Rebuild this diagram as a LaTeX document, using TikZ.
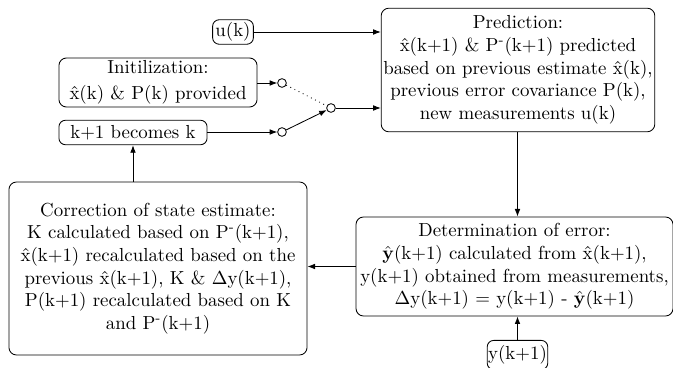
\documentclass[tikz,border=0pt]{standalone}
\usetikzlibrary{arrows.meta}
\begin{document}
\begin{tikzpicture}[x=0.53pt,y=-0.53pt,
  box/.style={draw,rounded corners=4pt,align=center,inner sep=1pt,font=\fontsize{10}{12}\selectfont},
  sbox/.style={draw,rounded corners=3.5pt,align=center,inner sep=1.5pt,font=\fontsize{10}{12}\selectfont},
  sw/.style={draw,circle,inner sep=0pt,minimum size=4.6pt},
  arr/.style={-{Latex[length=4pt,width=3pt]}},
  every path/.style={line width=0.45pt}]
\useasboundingbox (0,0) rectangle (673,368);
\node[sbox] (uk) at (233,32) {u(k)};
\node[box,minimum width=145pt,minimum height=65.5pt] (pred) at (518,70) {Prediction:\\
\^{x}(k+1) \& P\textsuperscript{-}(k+1) predicted\\
based on previous estimate \^{x}(k),\\
previous error covariance P(k),\\
new measurements u(k)};
\node[box,minimum width=105pt,minimum height=26pt] (init) at (158,82.5) {Initilization:\\[2pt] \^{x}(k) \& P(k) provided};
\node[sbox,minimum width=78.5pt,minimum height=13pt] (kb) at (133,132.5) {k+1 becomes k};
\node[box,minimum width=158pt,minimum height=91.7pt] (corr) at (158,268.5) {Correction of state estimate:\\
K calculated based on P\textsuperscript{-}(k+1),\\
\^{x}(k+1) recalculated based on the\\
previous \^{x}(k+1), K \& $\Delta$y(k+1),\\
P(k+1) recalculated based on K\\
and P\textsuperscript{-}(k+1)};
\node[box,minimum width=168pt,minimum height=52.5pt] (det) at (514.5,266.5) {Determination of error:\\
$\hat{\mathbf{y}}$(k+1) calculated from \^{x}(k+1),\\
y(k+1) obtained from measurements,\\
$\Delta$y(k+1) = y(k+1) - $\hat{\mathbf{y}}$(k+1)};
\node[sbox,inner sep=0.5pt,minimum width=32pt,minimum height=15.5pt] (yk) at (517.5,355) {y(k+1)};
\node[sw] (c1) at (282,83) {};
\node[sw] (c2) at (282,132) {};
\node[sw] (c3) at (331,108) {};
\draw[arr] (init.east |- c1) -- (c1.west);
\draw[arr] (kb.east |- c2) -- (c2.west);
\draw[arr] (uk.east) -- (uk.east -| pred.west);
\draw[dotted] (c1) -- (c3);
\draw[arr] (c2) -- (c3);
\draw[arr] (c3.east) -- (c3 -| pred.west);
\draw[arr] (pred.south -| 517.5,0) -- (det.north -| 517.5,0);
\draw[arr] (yk.north) -- (yk.north |- det.south);
\draw[arr] (det.west) -- (det.west -| corr.east);
\draw[arr] (kb.south |- corr.north) -- (kb.south);
\end{tikzpicture}
\end{document}
